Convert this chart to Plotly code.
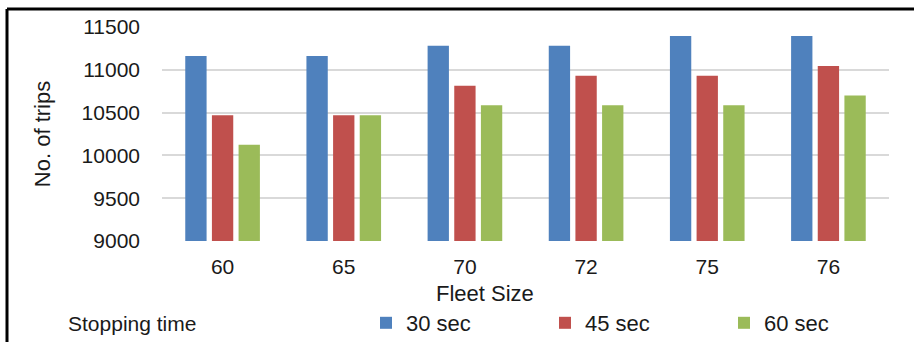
import plotly.graph_objects as go

# Number of trips per fleet size for each stopping time
fleet_sizes = ["60", "65", "70", "72", "75", "76"]
trips_30s = [11160, 11160, 11280, 11280, 11395, 11395]
trips_45s = [10470, 10470, 10815, 10930, 10930, 11045]
trips_60s = [10125, 10470, 10585, 10585, 10585, 10700]
series_names = ["30 sec", "45 sec", "60 sec"]
series_colors = ["#4F81BD", "#C0504D", "#9BBB59"]
y_ticks = [9000, 9500, 10000, 10500, 11000, 11500]

W, H = 914, 342
L, R, T, B = 162, 25, 27, 101
PW, PH = W - L - R, H - T - B

FONT = "Liberation Sans, Arial, sans-serif"
TXT = "#1a1a1a"


def paper_x(px):
    return (px - L) / PW


def paper_y(py):
    return (H - B - py) / PH


fig = go.Figure()
for name, vals, col in zip(series_names, [trips_30s, trips_45s, trips_60s], series_colors):
    fig.add_trace(go.Bar(x=fleet_sizes, y=vals, name=name, marker_color=col,
                         marker_line_width=0))

# Chart frame: top and left edges
frame = dict(color="black", width=3)
fig.add_shape(type="line", xref="paper", yref="paper",
              x0=paper_x(7), x1=paper_x(916), y0=paper_y(9), y1=paper_y(9),
              line=frame)
fig.add_shape(type="line", xref="paper", yref="paper",
              x0=paper_x(7), x1=paper_x(7), y0=paper_y(9), y1=paper_y(345),
              line=frame)

# Axis title and legend caption
fig.add_annotation(text="Fleet Size", xref="paper", yref="paper",
                   x=paper_x(485), y=paper_y(293), xanchor="center", yanchor="middle",
                   showarrow=False, font=dict(family=FONT, size=22, color=TXT))
fig.add_annotation(text="Stopping time", xref="paper", yref="paper",
                   x=paper_x(66), y=paper_y(323), xanchor="left", yanchor="middle",
                   showarrow=False, font=dict(family=FONT, size=21, color=TXT))

fig.update_layout(
    width=W, height=H,
    margin=dict(l=L, r=R, t=T, b=B, pad=0, autoexpand=False),
    paper_bgcolor="white", plot_bgcolor="white",
    barmode="group", bargap=0.34, bargroupgap=0.2,
    font=dict(family=FONT, size=21, color=TXT),
    showlegend=True,
    legend=dict(orientation="h", xref="container", yref="container",
                x=366 / W, y=1 - 323 / H,
                xanchor="left", yanchor="middle",
                entrywidth=134, entrywidthmode="pixels",
                font=dict(family=FONT, size=22, color=TXT),
                bgcolor="rgba(0,0,0,0)", traceorder="normal"),
    xaxis=dict(type="category", showgrid=False, showline=False, zeroline=False,
               ticks="", ticklabelstandoff=11, automargin=False,
               tickfont=dict(family=FONT, size=21, color=TXT)),
    yaxis=dict(range=[9000, 11500], tickvals=y_ticks,
               ticktext=[str(v) for v in y_ticks],
               showgrid=True, gridcolor="#D9D9D9", gridwidth=2,
               zeroline=False, showline=False, ticks="", automargin=False,
               ticklabelstandoff=21,
               tickfont=dict(family=FONT, size=21, color=TXT),
               title=dict(text="No. of trips", standoff=24,
                          font=dict(family=FONT, size=22, color=TXT))),
)

fig.write_html("out.html")
